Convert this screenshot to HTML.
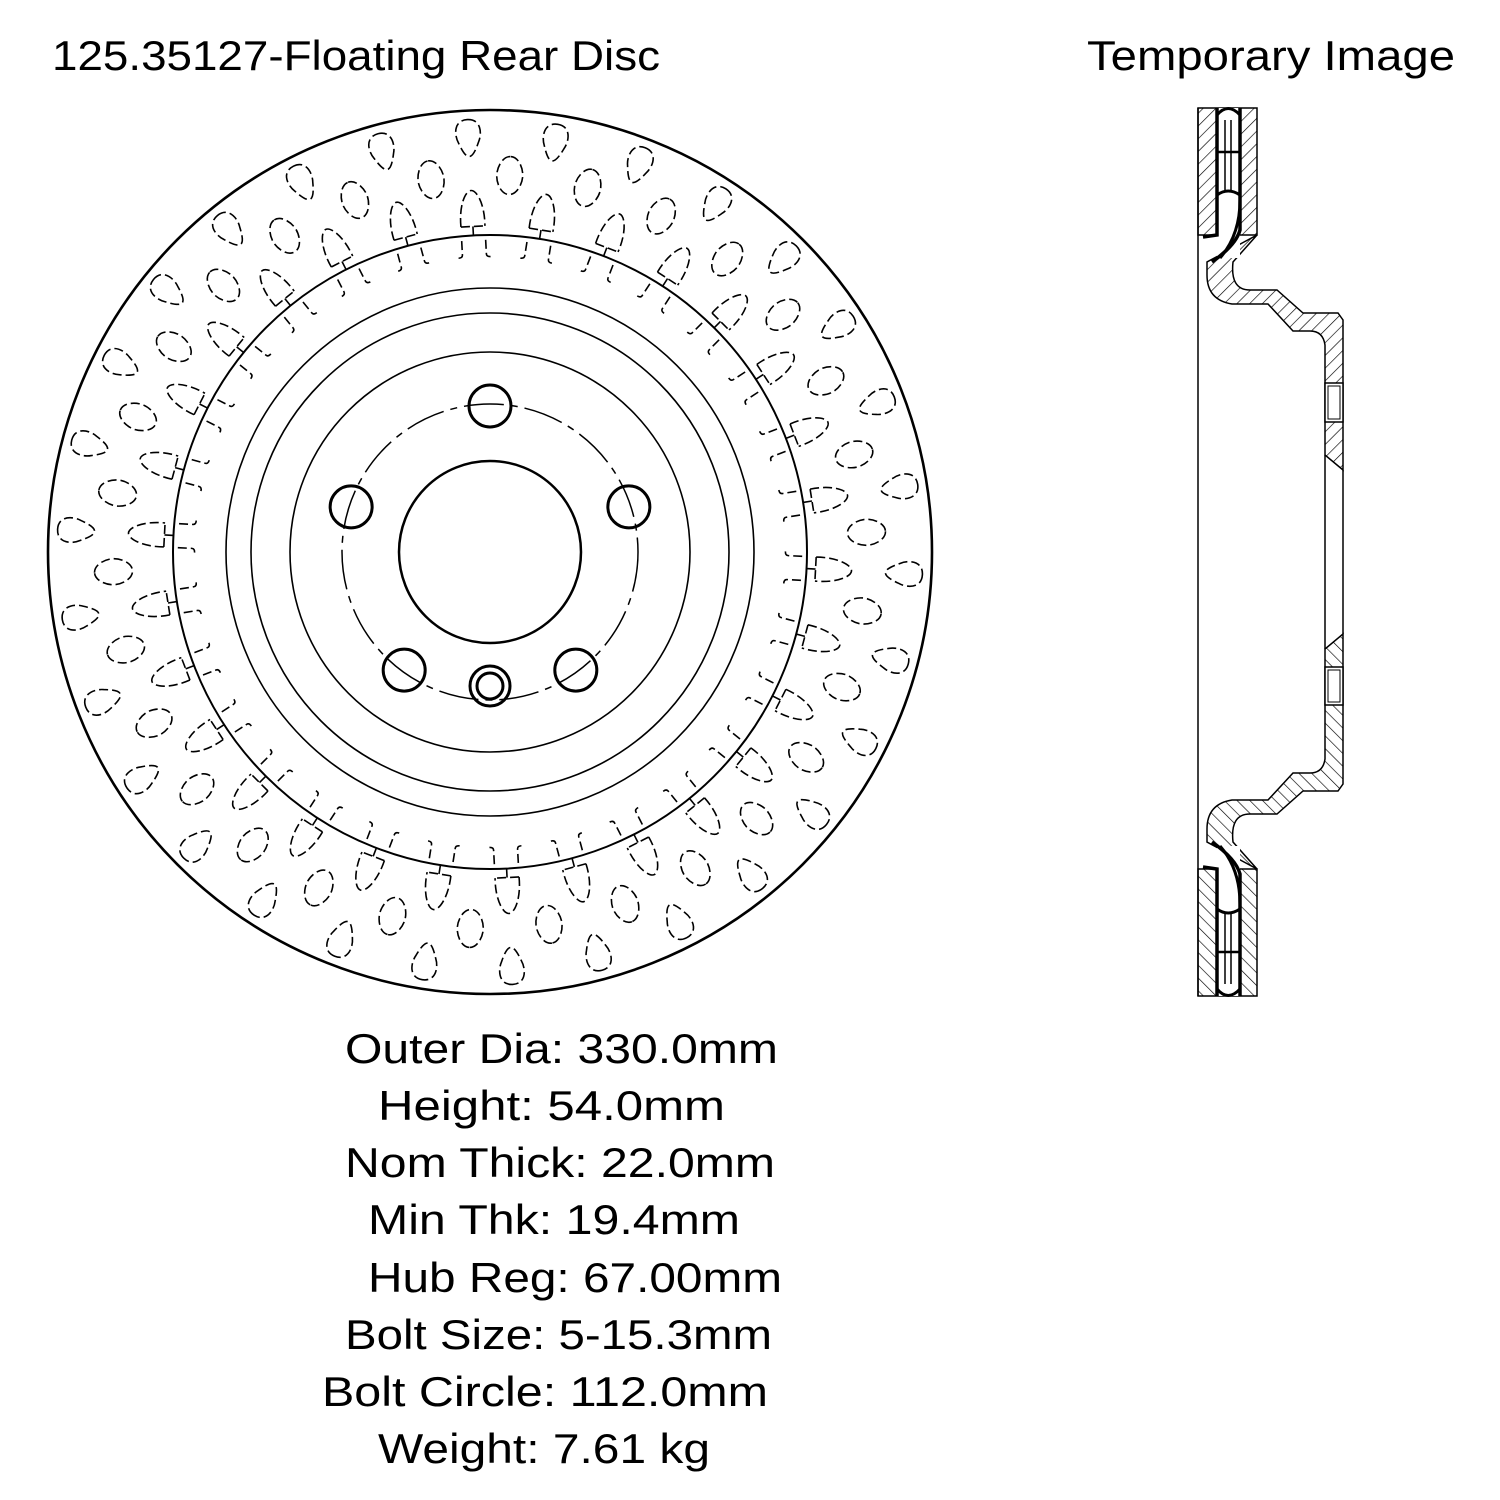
<!DOCTYPE html>
<html><head><meta charset="utf-8"><style>
html,body{margin:0;padding:0;background:#fff;}
svg{display:block}
text{font-family:"Liberation Sans",sans-serif;fill:#000}
</style></head><body>
<svg id="s" width="1500" height="1500" viewBox="0 0 1500 1500" xmlns="http://www.w3.org/2000/svg">
<defs>
<pattern id="h" patternUnits="userSpaceOnUse" width="9" height="9" patternTransform="rotate(45)">
<line x1="0" y1="0" x2="0" y2="9" stroke="#000" stroke-width="1.3"/>
</pattern>
</defs>
<text x="52" y="70" font-size="42" textLength="608" lengthAdjust="spacingAndGlyphs">125.35127-Floating Rear Disc</text>
<text x="1087" y="70" font-size="42" textLength="368" lengthAdjust="spacingAndGlyphs">Temporary Image</text>

<g fill="none" stroke="#000">
<circle cx="490" cy="552" r="442" stroke-width="2.6"/>
<circle cx="490" cy="552" r="317" stroke-width="2"/>
<circle cx="490" cy="552" r="264" stroke-width="1.6"/>
<circle cx="490" cy="552" r="239" stroke-width="1.6"/>
<circle cx="490" cy="552" r="200" stroke-width="1.6"/>
<circle cx="490" cy="552" r="148" stroke-width="1.5" stroke-dasharray="40 7 7 7"/>
<circle cx="490" cy="552" r="91" stroke-width="2.5"/>
<g id="bolts" stroke-width="3"></g>
<circle cx="490" cy="686" r="20" stroke-width="3"/>
<circle cx="490" cy="686" r="13" stroke-width="3"/>
<g id="pat" stroke-width="1.6" stroke-dasharray="9 4"></g>
</g>

<g id="side" stroke="#000" fill="none">
<line x1="1198" y1="108" x2="1198" y2="996" stroke-width="1.5"/>
<g id="half">
<rect x="1198" y="108" width="59" height="127" fill="url(#h)" stroke-width="1.5"/>
<path d="M1257,235 L1233,262 Q1230,290 1250,290 L1277,290 L1303,313 L1338,313 L1343,320 L1343,470 L1325,455 L1325,345 Q1323,331 1310,331 L1293,331 L1268,304 L1232,304 Q1207,300 1207,275 L1207,262 Z" fill="url(#h)" stroke-width="1.5"/>
<rect x="1217" y="108" width="23" height="150" fill="#fff" stroke="none"/>
<path d="M1217,108 L1217,235 L1203,237 M1240,108 L1240,230 Q1236,245 1212,262" stroke-width="3.5"/>
<path d="M1217,115 Q1228,102 1240,115" stroke-width="3"/>
<line x1="1225" y1="120" x2="1225" y2="190" stroke-width="1.5"/>
<line x1="1231" y1="120" x2="1231" y2="190" stroke-width="1.5"/>
<line x1="1217" y1="152" x2="1240" y2="152" stroke-width="2.5"/>
<path d="M1217,195 Q1228,187 1240,195" stroke-width="3"/>
<path d="M1240,200 Q1240,235 1220,258" stroke-width="3"/>
<line x1="1325" y1="455" x2="1325" y2="552" stroke-width="1.5"/>
<line x1="1343" y1="470" x2="1343" y2="552" stroke-width="1.5"/>
</g>
<use href="#half" transform="translate(0,1104) scale(1,-1)"/>
<rect x="1325" y="383" width="18" height="39" fill="#fff" stroke-width="1.5"/>
<rect x="1328" y="386" width="12" height="33" fill="none" stroke-width="1"/>
<rect x="1325" y="667" width="18" height="38" fill="#fff" stroke-width="1.5"/>
<rect x="1328" y="670" width="12" height="32" fill="none" stroke-width="1"/>
</g>

<g font-size="42">
<text x="345" y="1063" textLength="433" lengthAdjust="spacingAndGlyphs">Outer Dia: 330.0mm</text>
<text x="378" y="1120" textLength="347" lengthAdjust="spacingAndGlyphs">Height: 54.0mm</text>
<text x="345" y="1177" textLength="430" lengthAdjust="spacingAndGlyphs">Nom Thick: 22.0mm</text>
<text x="368" y="1234" textLength="372" lengthAdjust="spacingAndGlyphs">Min Thk: 19.4mm</text>
<text x="368" y="1292" textLength="414" lengthAdjust="spacingAndGlyphs">Hub Reg: 67.00mm</text>
<text x="345" y="1349" textLength="427" lengthAdjust="spacingAndGlyphs">Bolt Size: 5-15.3mm</text>
<text x="322" y="1406" textLength="446" lengthAdjust="spacingAndGlyphs">Bolt Circle: 112.0mm</text>
<text x="378" y="1463" textLength="332" lengthAdjust="spacingAndGlyphs">Weight: 7.61 kg</text>
</g>
</svg>
<script>
var NS="http://www.w3.org/2000/svg",cx=490,cy=552;
function el(t,a,p){var e=document.createElementNS(NS,t);for(var k in a)e.setAttribute(k,a[k]);p.appendChild(e);return e;}
var b=document.getElementById("bolts");
for(var i=0;i<5;i++){var a=(-90+72*i)*Math.PI/180;el("circle",{cx:cx+146*Math.cos(a),cy:cy+146*Math.sin(a),r:21},b);}
var p=document.getElementById("pat");
for(var i=0;i<30;i++){
 var d=183+12*i;
 var g=el("g",{transform:"translate("+cx+","+cy+") rotate("+(d+90)+")"},p);
 el("path",{d:"M0,-433 C14,-433 14,-418 10,-410 C6,-400 3,-396 0,-396 C-3,-396 -6,-400 -10,-410 C-14,-418 -14,-433 0,-433 Z"},g);
 el("path",{d:"M-12,-326 C-13,-347 -6,-362 0,-362 C6,-362 13,-347 12,-326"},g);
 el("path",{d:"M-12,-326 L12,-326 M0,-326 L0,-317"},g);
 el("path",{d:"M-12,-312 L-12,-298 Q-12,-295 -16,-295 M12,-312 L12,-298 Q12,-295 16,-295"},g);
 var g2=el("g",{transform:"translate("+cx+","+cy+") rotate("+(d+96)+")"},p);
 el("path",{d:"M0,-396 C8,-396 13,-385 13,-377 C13,-369 8,-358 0,-358 C-8,-358 -13,-369 -13,-377 C-13,-385 -8,-396 0,-396 Z"},g2);
}
</script>
</body></html>
